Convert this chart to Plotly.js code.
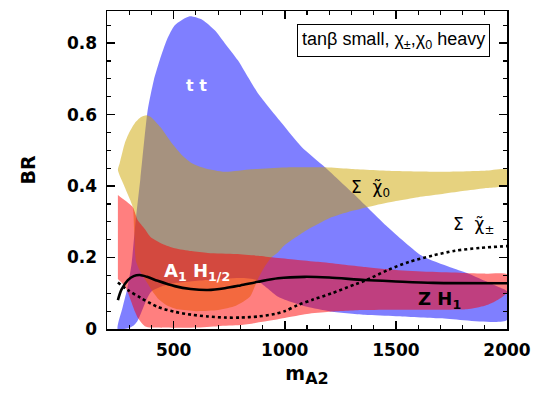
<!DOCTYPE html>
<html><head><meta charset="utf-8">
<script src="https://cdn.plot.ly/plotly-3.0.1.min.js"></script>
<style>html,body{margin:0;padding:0;background:#fff}#chart{width:540px;height:400px}</style>
</head><body><div id="chart"></div>
<script>
// ---- tt band (blue) ----
const ttUpperX = [248, 270, 290, 310, 330, 350, 383, 410, 437, 470, 505, 572, 630, 685, 730, 789, 879, 987, 1077, 1181, 1307, 1464, 1617, 1744, 1820, 1900, 1960, 2000];
const ttUpperY = [0, 0.06, 0.11, 0.18, 0.31, 0.42, 0.612, 0.695, 0.752, 0.81, 0.85, 0.875, 0.865, 0.836, 0.80, 0.752, 0.66, 0.576, 0.509, 0.453, 0.38, 0.285, 0.205, 0.173, 0.157, 0.135, 0.118, 0.105];
const ttLowerX = [248, 300, 320, 335, 350, 380, 400, 450, 500, 650, 800, 870, 920, 970, 1000, 1100, 1200, 1360, 1500, 1700, 2000];
const ttLowerY = [0, 0.003, 0.01, 0.02, 0.04, 0.085, 0.105, 0.12, 0.128, 0.137, 0.143, 0.138, 0.115, 0.09, 0.082, 0.062, 0.05, 0.04, 0.036, 0.03, 0.025];

// ---- sum chi0 band (yellow) ----
const chi0UpperX = [249, 257, 280, 300, 325, 350, 378, 400, 440, 492, 540, 582, 640, 730, 850, 1000, 1200, 1300, 1500, 1700, 1900, 2000];
const chi0UpperY = [0.445, 0.464, 0.52, 0.55, 0.576, 0.592, 0.598, 0.592, 0.565, 0.52, 0.485, 0.464, 0.45, 0.44, 0.447, 0.452, 0.452, 0.448, 0.442, 0.44, 0.443, 0.446];
const chi0LowerX = [249, 280, 316, 322, 330, 350, 380, 400, 430, 470, 520, 600, 700, 780, 843, 879, 910, 940, 970, 1000, 1100, 1200, 1300, 1400, 1500, 1600, 1700, 1800, 1900, 2000];
const chi0LowerY = [0.445, 0.397, 0.341, 0.28, 0.19, 0.16, 0.13, 0.11, 0.085, 0.066, 0.055, 0.05, 0.053, 0.065, 0.09, 0.14, 0.175, 0.2, 0.215, 0.235, 0.277, 0.31, 0.33, 0.345, 0.358, 0.369, 0.377, 0.386, 0.394, 0.403];

// ---- A1 H1/2 and Z H1 band (red) ----
const redUpperX = [249, 280, 316, 338, 370, 397, 450, 505, 580, 654, 780, 880, 950, 1050, 1150, 1250, 1350, 1500, 1650, 1800, 1900, 2000];
const redUpperY = [0.375, 0.36, 0.341, 0.305, 0.28, 0.257, 0.238, 0.226, 0.218, 0.213, 0.21, 0.205, 0.2, 0.194, 0.188, 0.181, 0.174, 0.165, 0.16, 0.157, 0.155, 0.153];
const redLowerX = [249, 265, 280, 295, 310, 325, 340, 370, 400, 500, 600, 700, 800, 900, 1000, 1100, 1200, 1350, 1500, 1700, 1820, 1900, 1940, 1975, 2000];
const redLowerY = [0.14, 0.13, 0.12, 0.1, 0.075, 0.05, 0.03, 0.008, 0.004, 0.003, 0.004, 0.008, 0.011, 0.02, 0.031, 0.042, 0.048, 0.053, 0.054, 0.054, 0.055, 0.065, 0.075, 0.088, 0.103];

// ---- solid black line ----
const solidX = [249, 265, 294, 320, 347, 380, 428, 505, 577, 654, 730, 800, 879, 970, 1090, 1200, 1360, 1500, 1668, 2000];
const solidY = [0.081, 0.11, 0.137, 0.148, 0.151, 0.146, 0.135, 0.12, 0.112, 0.109, 0.114, 0.122, 0.132, 0.142, 0.146, 0.144, 0.137, 0.133, 0.129, 0.128];

// ---- dotted line: sum chi+- ----
const chipmX = [249, 294, 352, 428, 505, 580, 654, 730, 802, 880, 955, 1000, 1059, 1130, 1212, 1316, 1360, 1464, 1560, 1668, 1766, 1880, 2000];
const chipmY = [0.13, 0.109, 0.087, 0.062, 0.048, 0.04, 0.035, 0.032, 0.032, 0.035, 0.042, 0.05, 0.067, 0.083, 0.1, 0.125, 0.135, 0.165, 0.188, 0.206, 0.219, 0.227, 0.232];

function band(ux, uy, lx, ly, color) {
  return {
    x: ux.concat(lx.slice().reverse()),
    y: uy.concat(ly.slice().reverse()),
    type: 'scatter', mode: 'lines', fill: 'toself', fillcolor: color,
    line: {width: 0, shape: 'spline', smoothing: 0.6}, hoverinfo: 'skip'
  };
}

const traces = [
  band(ttUpperX, ttUpperY, ttLowerX, ttLowerY, 'rgba(0,0,255,0.5)'),
  band(chi0UpperX, chi0UpperY, chi0LowerX, chi0LowerY, 'rgba(205,165,0,0.5)'),
  band(redUpperX, redUpperY, redLowerX, redLowerY, 'rgba(255,0,0,0.5)'),
  {x: chipmX, y: chipmY, type: 'scatter', mode: 'lines', line: {color: 'black', width: 2.6, dash: 'dot', shape: 'spline', smoothing: 0.8}},
  {x: solidX, y: solidY, type: 'scatter', mode: 'lines', line: {color: 'black', width: 2.6, shape: 'spline', smoothing: 0.8}}
];

const boldFont = {family: 'DejaVu Sans', weight: 'bold', color: 'black'};
const layout = {
  width: 540, height: 400,
  margin: {l: 107, r: 33, t: 11, b: 71},
  paper_bgcolor: 'white', plot_bgcolor: 'white',
  showlegend: false,
  xaxis: {
    range: [200, 2000], tick0: 0, dtick: 500,
    ticks: 'inside', ticklen: 8, tickwidth: 1.5, tickcolor: 'black',
    showline: true, linecolor: 'black', linewidth: 1.5, mirror: 'allticks',
    showgrid: false, zeroline: false, ticklabelstandoff: 5,
    minor: {dtick: 100, ticks: 'inside', ticklen: 4, tickwidth: 1.2, tickcolor: 'black', showgrid: false},
    tickfont: Object.assign({size: 17}, boldFont),
    title: {text: 'm<sub><span style="font-size:16px">A2</span></sub>', font: Object.assign({size: 19}, boldFont), standoff: 8}
  },
  yaxis: {
    range: [0, 0.89], tick0: 0, dtick: 0.2,
    ticks: 'inside', ticklen: 8, tickwidth: 1.5, tickcolor: 'black',
    showline: true, linecolor: 'black', linewidth: 1.5, mirror: 'allticks',
    showgrid: false, zeroline: false, ticklabelstandoff: 5,
    minor: {dtick: 0.05, ticks: 'inside', ticklen: 4, tickwidth: 1.2, tickcolor: 'black', showgrid: false},
    tickfont: Object.assign({size: 17}, boldFont),
    title: {text: 'BR', font: Object.assign({size: 19}, boldFont), standoff: 26}
  },
  annotations: [
    {x: 604, y: 0.682, xref: 'x', yref: 'y', text: 't t', showarrow: false,
     font: {family: 'DejaVu Sans', weight: 'bold', size: 16, color: 'white'}},
    {x: 604, y: 0.159, xref: 'x', yref: 'y', text: 'A<sub>1</sub> H<sub>1/2</sub>', showarrow: false,
     font: {family: 'DejaVu Sans', weight: 'bold', size: 18, color: 'white'}},
    {x: 1694, y: 0.081, xref: 'x', yref: 'y', text: 'Z H<sub>1</sub>', showarrow: false,
     font: {family: 'DejaVu Sans', weight: 'bold', size: 18, color: 'black'}},
    {x: 1384, y: 0.392, xref: 'x', yref: 'y', text: 'Σ  χ\u0303<sub>0</sub>', showarrow: false,
     font: {family: 'DejaVu Sans', size: 17, color: 'black'}},
    {x: 1848, y: 0.29, xref: 'x', yref: 'y', text: 'Σ  χ\u0303<sub>±</sub>', showarrow: false,
     font: {family: 'DejaVu Sans', size: 17, color: 'black'}},
    {x: 1490, y: 0.808, xref: 'x', yref: 'y', text: 'tanβ small, χ<sub>±</sub>,χ<sub>0</sub> heavy', showarrow: false,
     font: {family: 'Liberation Sans', size: 18, color: 'black'},
     bgcolor: 'white', bordercolor: 'black', borderwidth: 1, borderpad: 4}
  ]
};

Plotly.newPlot('chart', traces, layout, {staticPlot: true, displayModeBar: false});
</script></body></html>
